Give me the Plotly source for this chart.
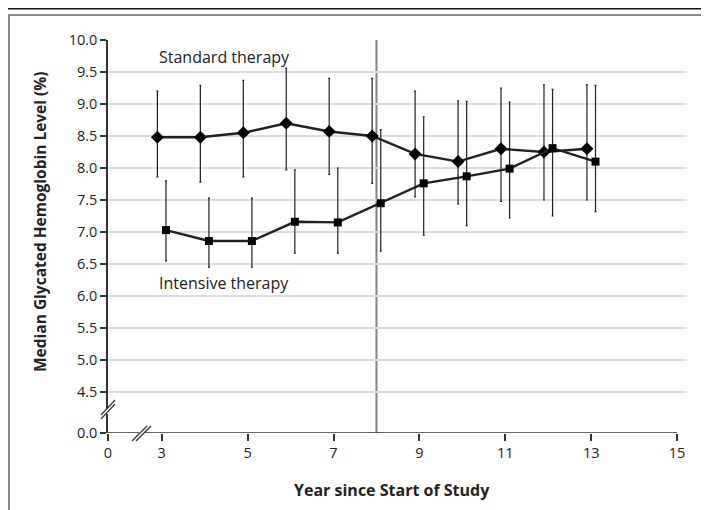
import plotly.graph_objects as go

# ---------------- data ----------------
years = [3, 4, 5, 6, 7, 8, 9, 10, 11, 12, 13]
std_med = [8.48, 8.48, 8.55, 8.70, 8.57, 8.50, 8.22, 8.10, 8.30, 8.25, 8.30]
std_hi = [9.20, 9.29, 9.37, 9.56, 9.40, 9.40, 9.20, 9.05, 9.25, 9.30, 9.30]
std_lo = [7.86, 7.78, 7.86, 7.97, 7.90, 7.76, 7.55, 7.44, 7.48, 7.50, 7.50]
int_med = [7.03, 6.86, 6.86, 7.16, 7.15, 7.45, 7.76, 7.87, 7.99, 8.31, 8.10]
int_hi = [7.80, 7.53, 7.53, 7.97, 8.00, 8.60, 8.80, 9.04, 9.03, 9.23, 9.29]
int_lo = [6.55, 6.45, 6.45, 6.67, 6.67, 6.70, 6.95, 7.10, 7.22, 7.25, 7.32]

x_tick_vals = [3, 5, 7, 9, 11, 13, 15]
x_tick_text = ["3", "5", "7", "9", "11", "13", "15"]
y_tick_vals = [4.5, 5.0, 5.5, 6.0, 6.5, 7.0, 7.5, 8.0, 8.5, 9.0, 9.5, 10.0]
y_tick_text = ["4.5", "5.0", "5.5", "6.0", "6.5", "7.0", "7.5", "8.0", "8.5", "9.0", "9.5", "10.0"]
x_break_label = "0"
y_break_label = "0.0"
vline_year = 8

# ---------------- layout constants ----------------
W, H = 709, 510
BODY = 8                      # browser body margin
PL, PR, PT, PB = 108, 687, 40, 433   # plot area in screen pixels
ML, MT = PL - BODY, PT - BODY
PW, PH = PR - PL, PB - PT
MR = W - ML - PW
MB = H - MT - PH
X0, X1 = 1.75, 15.23      # axis range (x broken: "0" drawn at left edge)
Y0, Y1 = 3.86, 10.0       # axis range (y broken: "0.0" drawn at bottom edge)
FONT = "Open Sans"
INK = "#231f20"
offset = 0.1

def pxp(px):  # screen pixel x -> paper
    return (px - PL) / PW

def pyp(py):  # screen pixel y -> paper
    return (PB - py) / PH

def err(med, hi, lo):
    return dict(type="data", symmetric=False,
                array=[h - m for h, m in zip(hi, med)],
                arrayminus=[m - l for m, l in zip(med, lo)],
                color=INK, thickness=1.2, width=1)

fig = go.Figure()
fig.add_trace(go.Scatter(
    x=[y - offset for y in years], y=std_med, mode="lines+markers",
    line=dict(color=INK, width=2.4),
    marker=dict(symbol="diamond", size=10, color="black"),
    error_y=err(std_med, std_hi, std_lo), showlegend=False, cliponaxis=False))
fig.add_trace(go.Scatter(
    x=[y + offset for y in years], y=int_med, mode="lines+markers",
    line=dict(color=INK, width=2.4),
    marker=dict(symbol="square", size=8, color="black"),
    error_y=err(int_med, int_hi, int_lo), showlegend=False, cliponaxis=False))

shapes = []
# vertical reference line
shapes.append(dict(type="line", xref="x", yref="y", x0=vline_year, x1=vline_year,
                   y0=Y0, y1=Y1, line=dict(color="#808080", width=2), layer="below"))
# x axis line (ends at 15)
shapes.append(dict(type="line", xref="x", yref="y", x0=X0, x1=15, y0=Y0, y1=Y0,
                   line=dict(color="#333333", width=1.5)))
# y-axis break
shapes.append(dict(type="line", xref="paper", yref="paper", x0=pxp(106), x1=pxp(110),
                   y0=pyp(411.5), y1=pyp(411.5), line=dict(color="white", width=5)))
for d in (0, 4):
    shapes.append(dict(type="line", xref="paper", yref="paper",
                       x0=pxp(101), y0=pyp(419 - d), x1=pxp(115), y1=pyp(404 - d),
                       line=dict(color="#333333", width=1.2)))
# x-axis break
shapes.append(dict(type="line", xref="paper", yref="paper", x0=pxp(139), x1=pxp(144),
                   y0=pyp(433), y1=pyp(433), line=dict(color="white", width=5)))
for d in (0, 4):
    shapes.append(dict(type="line", xref="paper", yref="paper",
                       x0=pxp(132 + d), y0=pyp(441), x1=pxp(147 + d), y1=pyp(426),
                       line=dict(color="#333333", width=1.2)))
# frame
shapes.append(dict(type="line", xref="paper", yref="paper", x0=pxp(8), x1=pxp(720),
                   y0=pyp(8.8), y1=pyp(8.8), line=dict(color="#111111", width=1.5)))
shapes.append(dict(type="line", xref="paper", yref="paper", x0=pxp(8), x1=pxp(720),
                   y0=pyp(15), y1=pyp(15), line=dict(color="#8a8a8a", width=2)))
shapes.append(dict(type="line", xref="paper", yref="paper", x0=pxp(9), x1=pxp(9),
                   y0=pyp(15), y1=pyp(520), line=dict(color="#8a8a8a", width=2)))

annotations = [
    dict(x=pxp(157), y=9.73, xref="paper", yref="y", text="Standard therapy",
         showarrow=False, xanchor="left", yanchor="middle",
         font=dict(family=FONT, size=16, color="#222222")),
    dict(x=pxp(157), y=6.20, xref="paper", yref="y", text="Intensive therapy",
         showarrow=False, xanchor="left", yanchor="middle",
         font=dict(family=FONT, size=16, color="#222222")),
    dict(x=pxp(40), y=pyp(222), xref="paper", yref="paper",
         text="<b>Median Glycated Hemoglobin Level (%)</b>", textangle=-90,
         showarrow=False, xanchor="center", yanchor="middle",
         font=dict(family=FONT, size=15.5, color="#222222")),
    dict(x=pxp(392), y=pyp(490), xref="paper", yref="paper",
         text="<b>Year since Start of Study</b>",
         showarrow=False, xanchor="center", yanchor="middle",
         font=dict(family=FONT, size=16, color="#222222")),
]

fig.update_layout(
    width=W, height=H, margin=dict(l=ML, r=MR, t=MT, b=MB),
    paper_bgcolor="white", plot_bgcolor="white",
    font=dict(family=FONT, size=14.5, color="#222222"),
    shapes=shapes, annotations=annotations,
    xaxis=dict(range=[X0, X1], tickvals=[X0] + x_tick_vals,
               ticktext=[x_break_label] + x_tick_text,
               showgrid=False, zeroline=False, showline=False,
               ticks="outside", ticklen=7, tickwidth=1.5, tickcolor="#333333",
               tickfont=dict(family=FONT, size=14.5)),
    yaxis=dict(range=[Y0, Y1], tickvals=[Y0] + y_tick_vals,
               ticktext=[y_break_label] + y_tick_text,
               showgrid=True, gridcolor="#dcdcdc", gridwidth=1.5, zeroline=False,
               showline=True, linecolor="#333333", linewidth=1.5,
               ticks="outside", ticklen=6, tickwidth=1.5, tickcolor="#333333",
               tickfont=dict(family=FONT, size=14.5)),
)

fig.write_html("out.html")
